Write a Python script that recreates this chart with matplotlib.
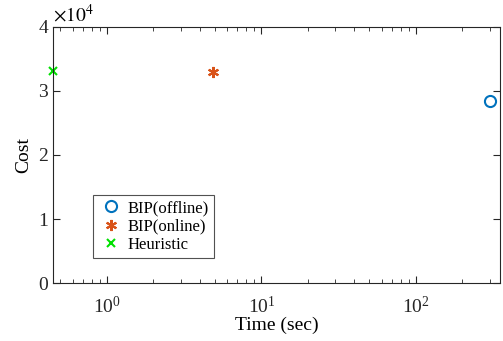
import matplotlib
matplotlib.use("Agg")
import matplotlib.pyplot as plt
from matplotlib.ticker import FuncFormatter, LogLocator, NullFormatter

plt.rcParams['font.family'] = ['Liberation Serif', 'DejaVu Serif']
plt.rcParams['mathtext.fontset'] = 'stix'

labels = ['BIP(offline)', 'BIP(online)', 'Heuristic']
times = [301.0, 4.86, 0.447]
costs = [28500, 32900, 33100]
colors = ['#0072BD', '#D95319', '#00E000']
markers = ['o', (6, 2, 0), 'x']
msizes = [8, 8, 6]

fig = plt.figure(figsize=(5.03, 3.41), dpi=100)
ax = fig.add_axes([0.105, 0.170, 0.889, 0.751])

for t, c, col, m, ms, lab in zip(times, costs, colors, markers, msizes, labels):
    if m == 'o':
        ax.plot([t], [c], linestyle='none', marker=m, markersize=ms, markerfacecolor='none',
                markeredgecolor=col, markeredgewidth=1.5, label=lab, clip_on=False)
    else:
        ax.plot([t], [c], linestyle='none', marker=m, markersize=ms, color=col,
                markeredgewidth=1.5, label=lab, clip_on=False)

ax.set_xscale('log')
ax.set_xlim(0.447, 350)
ax.set_ylim(0, 40000)
ax.set_yticks([0, 10000, 20000, 30000, 40000])
ax.yaxis.set_major_formatter(FuncFormatter(lambda v, p: f"{v/1e4:g}"))
ax.xaxis.set_major_locator(LogLocator(base=10, numticks=10))
ax.xaxis.set_minor_locator(LogLocator(base=10, subs=range(2, 10), numticks=20))
ax.xaxis.set_minor_formatter(NullFormatter())

ax.tick_params(which='both', direction='in', top=True, right=True, labelsize=14, colors='#262626')
ax.tick_params(which='major', length=5)
ax.tick_params(which='minor', length=3)
ax.tick_params(axis='x', which='major', pad=9)
for s in ax.spines.values():
    s.set_color('#262626')
    s.set_linewidth(0.8)

ax.set_xlabel('Time (sec)', fontsize=14, labelpad=0)
ax.set_ylabel('Cost', fontsize=14)
ax.text(0.0, 1.005, r'$\times10^4$', transform=ax.transAxes, fontsize=14, va='bottom', ha='left')

leg = ax.legend(loc='lower left', bbox_to_anchor=(0.089, 0.098), borderaxespad=0, fontsize=12,
                frameon=True, fancybox=False, edgecolor='#262626', handletextpad=0.2,
                borderpad=0.3, labelspacing=0.15, handlelength=1.6)
leg.get_frame().set_linewidth(0.8)

fig.savefig('out.png', dpi=100)
